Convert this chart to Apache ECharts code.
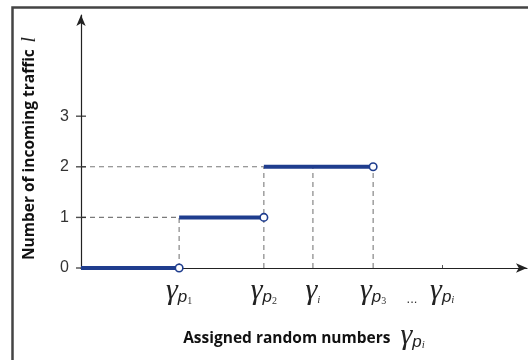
<!DOCTYPE html>
<html>
<head>
<meta charset="utf-8">
<script src="https://cdn.jsdelivr.net/npm/echarts@6/dist/echarts.min.js"></script>
<style>html,body{margin:0;padding:0;background:#fff}#c{width:528px;height:360px}</style>
</head>
<body>
<div id="c"></div>
<script>
// ---- data ----
var yTicks = [0, 1, 2, 3];
var xMarks = [2.2, 4.1, 5.2, 6.55, 7.42, 8.1];           // label positions on x axis
var xMarkKeys = ['p1', 'p2', 'i', 'p3', 'dots', 'pi'];  // which label each one is
var stepStarts = [0, 2.2, 4.1];
var stepEnds = [2.2, 4.1, 6.55];
var stepLevels = [0, 1, 2];
var gammaI = 5.2;

// ---- build ----
var blue = '#1f3d8e';
var series = [];
var dashStyle = {color: '#7a7a7a', width: 1.1, type: [5, 4]};
for (var k = 1; k < stepLevels.length; k++) {
  series.push({type: 'line', data: [[0, stepLevels[k]], [stepStarts[k], stepLevels[k]]], symbol: 'none', lineStyle: dashStyle, silent: true, z: 1});
}
for (var k = 1; k < stepLevels.length; k++) {
  series.push({type: 'line', data: [[stepStarts[k], 0], [stepStarts[k], stepLevels[k]]], symbol: 'none', lineStyle: dashStyle, silent: true, z: 1});
}
series.push({type: 'line', data: [[gammaI, 0], [gammaI, stepLevels[2]]], symbol: 'none', lineStyle: dashStyle, silent: true, z: 1});
series.push({type: 'line', data: [[stepEnds[2], 0], [stepEnds[2], stepLevels[2]]], symbol: 'none', lineStyle: dashStyle, silent: true, z: 1});
for (var k = 0; k < stepLevels.length; k++) {
  series.push({type: 'line', data: [[stepStarts[k], stepLevels[k]], [stepEnds[k], stepLevels[k]]], symbol: 'none', lineStyle: {color: blue, width: 4, cap: 'butt'}, silent: true, z: 3});
}
series.push({type: 'scatter', data: stepEnds.map(function (x, k) { return [x, stepLevels[k]]; }),
  symbol: 'circle', symbolSize: 7.5, itemStyle: {color: '#fff', borderColor: blue, borderWidth: 1.6, opacity: 1}, z: 5, silent: true});
series.push({type: 'scatter', data: yTicks.map(function (v) { return [0, v]; }), symbol: 'rect', symbolSize: [10, 1.4],
  itemStyle: {color: '#222'}, z: 2, silent: true, clip: false});

var labelText = {
  p1: '{g|γ}{p|p}{s|1}',
  p2: '{g|γ}{p|p}{s|2}',
  i: '{g|γ}{si|i}',
  p3: '{g|γ}{p|p}{s|3}',
  dots: '{d|...}',
  pi: '{g|γ}{p|p}{si|i}'
};
var rich = {
  g: {fontFamily: 'Liberation Serif', fontStyle: 'italic', fontSize: 30, color: '#222', lineHeight: 26, verticalAlign: 'bottom'},
  p: {fontFamily: 'Liberation Sans', fontStyle: 'italic', fontSize: 17, color: '#222', lineHeight: 26, verticalAlign: 'bottom'},
  s: {fontFamily: 'Liberation Serif', fontSize: 10, color: '#333', lineHeight: 20, verticalAlign: 'bottom'},
  si: {fontFamily: 'Liberation Serif', fontStyle: 'italic', fontSize: 11, color: '#333', lineHeight: 20, verticalAlign: 'bottom'},
  d: {fontFamily: 'Liberation Sans', fontSize: 13, color: '#333', lineHeight: 26, verticalAlign: 'bottom'}
};

var chart = echarts.init(document.getElementById('c'));
chart.setOption({
  animation: false,
  backgroundColor: '#fff',
  grid: {left: 81, right: 1, top: 15, bottom: 92, containLabel: false, outerBoundsMode: 'none'},
  xAxis: {
    type: 'value', min: 0, max: 10,
    axisLine: {show: true, lineStyle: {color: '#222', width: 1.2}, symbol: ['none', 'arrow'], symbolSize: [7, 11]},
    axisTick: {show: true, inside: true, length: 3, customValues: [xMarks[5]], lineStyle: {color: '#555'}},
    splitLine: {show: false},
    axisLabel: {
      customValues: xMarks, margin: 12, rich: rich,
      formatter: function (v) { var i = xMarks.indexOf(v); return i >= 0 ? labelText[xMarkKeys[i]] : ''; }
    },
    name: '{t|Assigned random numbers}   {g|γ}{p|p}{si|i}',
    nameLocation: 'middle', nameGap: 57,
    nameTextStyle: {rich: {
      t: {fontFamily: 'Open Sans', fontWeight: 'bold', fontSize: 15.5, color: '#111', lineHeight: 26, verticalAlign: 'bottom', padding: [0, 0, 4, 0]},
      g: rich.g, p: rich.p, si: rich.si
    }}
  },
  yAxis: {
    type: 'value', min: 0, max: 5,
    axisLine: {show: true, lineStyle: {color: '#222', width: 1.2}, symbol: ['none', 'arrow'], symbolSize: [7, 11]},
    axisTick: {show: false},
    splitLine: {show: false},
    axisLabel: {customValues: yTicks, margin: 12, fontFamily: 'Liberation Sans', fontSize: 16, color: '#333'},
    name: '{t|Number of incoming traffic}  {l|l}',
    nameLocation: 'middle', nameRotate: 90, nameGap: 40,
    nameTextStyle: {padding: [0, 14, 0, 0], rich: {
      t: {fontFamily: 'Open Sans', fontWeight: 'bold', fontSize: 15.5, color: '#111', lineHeight: 22},
      l: {fontFamily: 'Liberation Serif', fontStyle: 'italic', fontSize: 20, color: '#222', lineHeight: 22}
    }}
  },
  graphic: [{type: 'rect', left: 10, top: 5, shape: {width: 540, height: 380}, style: {fill: 'none', stroke: '#444', lineWidth: 2.5}, silent: true}],
  series: series
});
</script>
</body>
</html>
